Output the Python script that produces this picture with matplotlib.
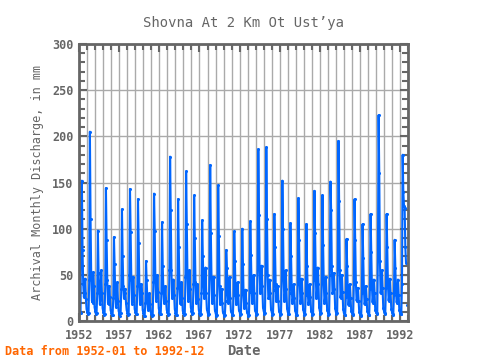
import numpy as np
import matplotlib
matplotlib.use("Agg")
import matplotlib.pyplot as plt
from matplotlib.ticker import MultipleLocator

nan = np.nan
start_year = 1952
# monthly discharge, one row per year (Jan..Dec)
discharge = [
    12, 10, 9, 123, 152, 77, 40, 26, 30, 46, 24, 13,    # 1952
    10, 8, 9, 45, 205, 110, 48, 22, 20, 53, 38, 15,     # 1953
    11, 8, 9, 30, 98, 52, 35, 18, 27, 55, 30, 14,
    10, 7, 8, 40, 144, 88, 44, 20, 18, 38, 26, 12,
    9, 7, 7, 25, 91, 62, 30, 15, 24, 42, 22, 11,
    8, 6, 9, 35, 121, 70, 38, 25, 30, 35, 20, 12,       # 1957
    9, 7, 8, 50, 143, 96, 45, 19, 22, 48, 28, 13,
    10, 8, 8, 38, 132, 85, 40, 18, 20, 40, 30, 12,
    9, 6, 6, 20, 65, 45, 22, 12, 14, 30, 18, 10,
    8, 6, 7, 42, 138, 98, 45, 22, 30, 50, 32, 14,
    10, 8, 8, 30, 107, 60, 33, 20, 25, 38, 22, 12,      # 1962
    10, 7, 8, 55, 178, 120, 55, 25, 30, 45, 28, 13,
    9, 7, 7, 36, 132, 80, 38, 20, 18, 42, 25, 11,
    9, 7, 8, 48, 162, 105, 50, 22, 28, 55, 35, 15,
    11, 8, 9, 40, 136, 90, 42, 20, 22, 40, 24, 12,
    9, 7, 8, 30, 109, 70, 40, 25, 35, 58, 30, 13,       # 1967
    10, 7, 8, 52, 169, 95, 45, 20, 30, 48, 28, 12,
    9, 6, 7, 44, 147, 92, 38, 18, 20, 35, 20, 10,
    8, 6, 7, 22, 77, 58, 30, 20, 35, 48, 25, 11,
    9, 7, 7, 28, 97, 65, 32, 18, 22, 42, 28, 12,
    10, 7, 8, 30, 100, 62, 28, 14, 18, 34, 20, 10,      # 1972
    8, 6, 7, 32, 108, 72, 36, 20, 28, 50, 30, 12,
    10, 7, 8, 60, 186, 115, 55, 30, 36, 60, 38, 15,
    11, 8, 9, 58, 188, 110, 50, 25, 25, 45, 30, 13,
    10, 7, 8, 34, 116, 80, 40, 22, 28, 38, 22, 11,
    9, 7, 8, 46, 152, 100, 45, 22, 30, 55, 35, 14,      # 1977
    10, 8, 8, 30, 106, 70, 36, 20, 25, 40, 25, 12,
    9, 7, 7, 40, 133, 88, 42, 20, 24, 46, 30, 13,
    10, 7, 8, 28, 105, 60, 32, 18, 22, 40, 26, 11,
    9, 7, 8, 45, 141, 95, 48, 25, 35, 58, 40, 15,
    11, 8, 9, 42, 136, 82, 40, 20, 26, 48, 30, 12,      # 1982
    10, 7, 8, 50, 151, 120, 60, 30, 32, 52, 35, 14,
    10, 8, 9, 62, 195, 130, 55, 25, 30, 50, 32, 13,
    9, 7, 7, 26, 89, 60, 30, 17, 24, 40, 25, 11,
    9, 7, 8, 40, 132, 88, 42, 22, 25, 36, 22, 10,
    8, 6, 7, 30, 105, 68, 35, 18, 22, 38, 24, 11,       # 1987
    9, 7, 7, 35, 116, 75, 38, 20, 28, 45, 30, 12,
    10, 8, 9, 70, 223, 160, 65, 30, 35, 55, 36, 14,
    11, 8, 9, 36, 116, 80, 40, 22, 28, 46, 30, 13,
    10, 7, 8, 28, 88, 58, 32, 20, 25, 45, 28, 12,
    9, 8, 8, 40, 180, 140, 125, 122, 80, 63, nan, 17,   # 1992
]
x_ticks = [1952, 1957, 1962, 1967, 1972, 1977, 1982, 1987, 1992]

gray = "#666666"
t = start_year + np.arange(len(discharge)) / 12.0

fig = plt.figure(figsize=(4.8, 3.6), dpi=100)
ax = fig.add_axes([0.165, 0.108, 0.685, 0.77])
ax.plot(t, discharge, color="#0066ff", lw=1.5, marker="o", ms=1.2)
ax.set_xlim(1952, 1993)
ax.set_ylim(0, 300)
ax.set_xticks(x_ticks)
ax.xaxis.set_minor_locator(MultipleLocator(1))
ax.yaxis.set_major_locator(MultipleLocator(50))
ax.yaxis.set_minor_locator(MultipleLocator(10))
ax.grid(True, which="major", axis="y", color="#aaaaaa", lw=1)
ax.grid(True, which="both", axis="x", color="#aaaaaa", lw=1)
ax.set_axisbelow(True)
for s in ax.spines.values():
    s.set_color(gray)
    s.set_linewidth(2)
ax.tick_params(which="both", direction="in", top=True, right=True, color=gray, width=1.5)
ax.tick_params(which="major", length=6, labelsize=8.5, labelcolor=gray)
ax.tick_params(which="minor", length=4)
ax.tick_params(axis="x", which="major", pad=6)
ax.tick_params(axis="y", which="major", pad=4)
for lab in ax.get_xticklabels() + ax.get_yticklabels():
    lab.set_family("DejaVu Sans Mono")
    lab.set_fontweight("bold")

ax.set_title("Shovna At 2 Km Ot Ust\u2019ya", family="DejaVu Sans Mono", fontsize=10, color=gray, pad=12)
ax.set_xlabel("Date", family="DejaVu Sans Mono", fontsize=10, fontweight="bold", color=gray, labelpad=1)
ax.set_ylabel("Archival Monthly Discharge, in mm", family="DejaVu Sans Mono", fontsize=8.5, color=gray, labelpad=6)
fig.text(0.01, 0.015, "Data from 1952-01 to 1992-12", family="DejaVu Sans Mono", fontsize=8.5,
         fontweight="bold", color="#ff6600")

plt.savefig("out.png")
